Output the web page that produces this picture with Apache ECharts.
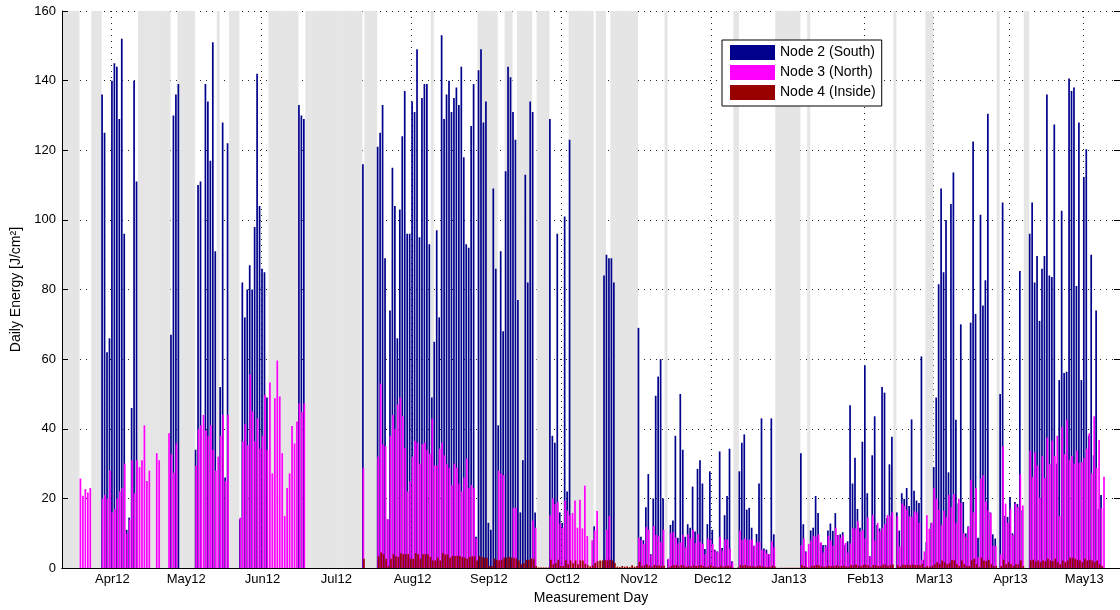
<!DOCTYPE html>
<html>
<head>
<meta charset="utf-8">
<script src="https://cdn.jsdelivr.net/npm/echarts@6/dist/echarts.min.js"></script>
<style>
  html, body { margin: 0; padding: 0; background: #fff; }
  #main { width: 1120px; height: 610px; }
</style>
</head>
<body>
<div id="main"></div>
<script>
// daily energy per node, one value per day starting 2012-03-12 (10 days per row)
const START = Date.UTC(2012, 2, 12)
const NDAYS = 430

const south = [
  0,0,0,0,0,0,0,0,0,0,
  0,0,0,0,0,0,136,125,62,66,
  140,145,144,129,152,96,11,14.5,46,140,
  111,0,0,0,0,0,0,0,0,0,
  0,0,0,0,67,130,136,139,0,0,
  0,0,0,0,34,110,111,0,139,134,
  117,151,91,0,52,128,26,122,0,0,
  0,0,14,82,72,80,87,80,98,142,
  104,86,85,49,0,0,0,0,0,0,
  0,0,0,0,0,0,133,130,129,0,
  0,0,0,0,0,0,0,0,0,0,
  0,0,0,0,0,0,0,0,0,0,
  0,0,116,0,0,0,0,0,121,125,
  133,89,14,74,115,104,66,103,124,137,
  96,96,134,131,149,95,135,139,139,93,
  49,65,97,72,153,129,136,140,131,135,
  138,133,144,118,93,92,127,139,9,143,
  149,128,134,13,11,109,86,41,91,68,
  114,144,141,131,123,77,16,31,113,82,
  134,131,16,0,0,0,0,0,129,38,
  36,96,16,13,101,22,123,0,0,0,
  0,0,0,0,0,0,12,0,0,0,
  84,90,89,89,82,0,0,0,0,0,
  0,0,0,0,69,9,8,17.5,27,4,
  20,49.5,55,60,20,0,2.5,12.4,13.7,38,
  8.7,50,34,9,12.6,11.6,23.4,10.5,28.5,31,
  24.3,5.5,12.6,27.8,11,5.3,4.8,33.5,5.8,15.2,
  20.7,34.3,2,0,0,27.8,36,38.4,16.8,17.3,
  11.6,6.4,9.8,24.3,43,5.6,5.3,4,43,9.7,
  0,0,0,0,0,0,0,0,0,0,
  33,12.6,4.8,0,10.8,11.6,20.7,15.8,7.2,6.6,
  6.6,10.8,12.8,10.7,15.8,9.5,9.7,10.3,6.7,7.7,
  46.8,24.3,31.7,17,11.6,36.3,58.2,21.5,3.4,32.4,
  43.6,12.4,11.4,52,50.4,14.4,29.8,37.7,0,16,
  10.8,21.5,19.9,23,17.8,42.7,22.2,19.4,18.7,60.8,
  2.4,7.4,0,13,29,49,81.5,109,85,100,
  27.5,104.6,113.6,42.6,18.6,70,19,10,12,70.5,
  122.5,73,8.7,101.5,75.4,82.7,130.5,16,9.7,8.5,
  0,50,105,15,14.7,20.4,10,19,18.4,85.3,
  16.6,0,0,96,105,82,89.6,71,86,89.6,
  136,84,83.6,127.4,30,54,102.6,56,56.4,140.6,
  137,138,81,128,54,112.3,120.3,38,90,32.4,
  74,17,21,0,0,0,0,0,0,0
]

const north = [
  0,0,0,0,0,0,0,25.7,20.8,22.7,
  21.7,23,0,0,0,0,20,21,20,28,
  16,17,20,22,23,30,10,14,31,21.5,
  31,29,31,41,25,28,0,0,33,31,
  0,0,0,38.7,32.7,27.4,35.8,0,0,0,
  0,0,0,0,29.5,40,41,44,39.5,38,
  41,34,28,32,38,44,25,44,0,0,
  0,0,14.5,36.4,41.3,35.3,55.6,45,36.4,43,
  34.3,37.9,49.7,34,53.3,27.2,48.8,59.6,49.3,33,
  15,23,27.2,40.8,35.8,42.1,47.3,44.8,47.3,0,
  0,0,0,0,0,0,0,0,0,0,
  0,0,0,0,0,0,0,0,0,0,
  0,0,28.8,0,0,0,0,0,32,53,
  35.6,35,14,38,44,40,47,49,43.6,34.5,
  22,25,32,36.6,36,30,35.6,36,34,32.8,
  42.9,29.5,29.5,34.3,36,32.4,29.8,28.8,23.9,30,
  28.8,24.3,22,26,31.4,23,23.9,23,8.5,0,
  0,0,0,0,0,0,0,28,27.2,26.7,
  0,0,0,17.3,17.3,0,0,0,0,0,
  0,13.7,11.6,0,0,0,0,0,15.2,20,
  18.4,19,12.8,11.6,19.4,16.5,15.2,15.8,19.4,11.6,
  19.6,11.4,23.7,9.2,0,8,10.8,16.4,0,0,
  0,11,15,0,0,0,0,0,0,0,
  0,0,0,0,8.7,8,6.9,11.8,11,3.8,
  12.1,9.5,9.3,7.4,11,0,2.7,10,10.3,8.8,
  7.1,7.4,9.5,6,9.7,8.5,11,7.2,9.7,7.6,
  6.9,4,8.5,8.2,6.9,5,4.5,9,5,8.2,
  8.2,5.6,1.7,0,0,10.7,8.1,8.5,8.1,8.2,
  8.2,6.4,7.4,7.6,5.3,5.1,4.3,4,7.7,6,
  0,0,0,0,0,0,0,0,0,0,
  6.6,8.5,4.5,6.9,7.9,9.3,9.1,9.7,7.4,4.5,
  6.2,9.3,7.9,6.4,11.6,9.5,8.7,9.5,7.2,4.5,
  7.1,11.6,11.4,13.5,10.5,11,8.5,14.5,3.4,15.2,
  7.9,13,10.5,11.6,12.6,15.2,15,16,0,14.9,
  6.2,18.6,17.8,16.8,14.9,14.7,16.3,16,13,2.4,
  4.8,15.2,11.3,13,23,19.9,16.8,12.4,16.5,14.7,
  21,17.5,21.2,13,19.9,18.7,10,9,11.8,25.4,
  16,23,3.2,25.7,26.7,19.1,16.6,15.8,6.4,6.4,
  0,4,35,18.5,13,17,9.5,18.5,17.5,27,
  18,0,0,33.7,26.2,33.2,29.5,20.2,32.1,25.9,
  37.5,29.8,36.6,32.2,38,14.9,40.5,32.7,42.6,31.1,
  32.2,30,33.7,30.2,30.4,31.6,34.3,38.7,27.2,43.6,
  28.8,36.8,17.3,26.2,0,0,0,0,0,0
]

const inside = [
  0,0,0,0,0,0,0,0,0,0,
  0,0,0,0,0,0,0,0,0,0,
  0,0,0,0,0,0,0,0,0,0,
  0,0,0,0,0,0,0,0,0,0,
  0,0,0,0,0,0,0,0,0,0,
  0,0,0,0,0,0,0,0,0,0,
  0,0,0,0,0,0,0,0,0,0,
  0,0,0,0,0,0,0,0,0,0,
  0,0,0,0,0,0,0,0,0,0,
  0,0,0,0,0,0,0,0,0,0,
  0,0,0,0,0,0,0,0,0,0,
  0,0,0,0,0,0,0,0,0,0,
  0,0,2.7,0,0,0,0,0,3.4,4.5,
  4,2.7,0.6,2.7,4,3.4,3.2,4.3,4,4,
  4,2.7,2.7,4.3,4,2.7,4,4,4,3.2,
  2.2,2.2,3,2.2,4.3,3.9,3.9,3,3.5,3.5,
  3.5,3.5,3.2,3,2.7,3.2,3.4,3.4,2.2,3.5,
  3.2,3,3,0.6,0.6,2.7,2.4,2.2,2.4,3,
  3,3.2,3,3,2.7,2.2,1.1,1.4,2.4,2.4,
  2.7,2.7,0.6,0.2,0.2,0.2,0.2,0.2,2.4,1.1,
  1.4,2.4,0.6,0.6,2.2,1.1,2.2,1.4,2.2,1.1,
  2.2,2.2,1.2,0.8,0.5,0.8,1.5,2,2.2,2.2,
  2.4,2.2,2.4,2.2,1.5,0.4,0.3,0.6,0.4,0.5,
  0.3,0.8,0.4,0.6,1.8,0.6,0.8,1,0.7,0.4,
  0.9,0.7,0.8,0.6,0.7,0,0.3,0.6,0.8,0.9,
  0.5,0.9,0.7,0.4,0.6,0.5,0.8,0.6,0.7,0.9,
  0.6,0.3,0.5,0.8,0.5,0.4,0.3,0.7,0.4,0.6,
  0.7,0.5,0.2,0,0.2,0.8,0.7,0.9,0.6,0.6,
  0.5,0.4,0.6,0.7,0.5,0.4,0.3,0.3,0.7,0.5,
  0.1,0.1,0.1,0.1,0.1,0.1,0.1,0.1,0.1,0.1,
  0.8,0.6,0.3,0.2,0.6,0.7,0.9,0.8,0.5,0.4,
  0.5,0.7,0.6,0.5,0.8,0.6,0.6,0.7,0.5,0.4,
  0.9,0.8,1,0.7,0.6,0.9,1,0.8,0.3,0.9,
  0.8,0.6,0.6,1,1,0.7,0.9,1,0,0.8,
  0.5,1,0.9,1,0.8,1.1,0.9,0.9,0.8,1.2,
  0.3,0.6,0.4,0.7,1.1,1.7,1.1,2.2,1.7,1.1,
  1.4,2.4,2.2,1.1,0.6,2.2,1.1,0.6,0.6,2.2,
  2.7,1.1,0.3,3,2.2,2,2.4,1.1,0.6,0.6,
  0,0.6,2.4,1.1,1.7,1.1,0.6,1.1,1.1,2.2,
  0.6,0,0,2.2,2.4,1.9,2.2,1.7,2.2,2,
  2.7,2.2,2,2.7,1.7,1.1,2.2,1.7,2.2,3,
  3,2.7,2.4,2.2,1.7,2.7,2.2,2.4,2.2,1.7,
  2.2,1.1,0.6,0,0,0,0,0,0,0
]

// day ranges (index from START, inclusive) shaded grey
const grayRanges = [
  [0, 6], [12, 15], [31, 43], [47, 53], [63, 63], [68, 71], [84, 95],
  [99, 121], [123, 127], [150, 150], [169, 176], [180, 182], [185, 190],
  [193, 197], [206, 215], [217, 220], [223, 233], [245, 245], [273, 274],
  [290, 299], [303, 303], [338, 338], [351, 353], [380, 380], [391, 392]
]

const monthNames = ['Jan', 'Feb', 'Mar', 'Apr', 'May', 'Jun', 'Jul', 'Aug', 'Sep', 'Oct', 'Nov', 'Dec']
const seriesNames = ['Node 2 (South)', 'Node 3 (North)', 'Node 4 (Inside)']

const days = []
for (let i = 0; i < NDAYS; i++) {
  days.push(new Date(START + i * 86400000).toISOString().slice(0, 10))
}
const shade = days.map(() => null)
grayRanges.forEach(([a, b]) => {
  for (let i = a; i <= b; i++) shade[i] = 160
})

const isMonthStart = (idx, v) => v.slice(8) === '01'
const monthLabel = v => monthNames[+v.slice(5, 7) - 1] + v.slice(2, 4)

const FONT = 'Liberation Sans, Arial, Helvetica, sans-serif'
const dotted = { type: [1, 5], color: '#222', width: 1 }

const myChart = echarts.init(document.getElementById('main'))

var option = {
  animation: false,
  textStyle: { fontFamily: FONT },
  grid: { left: 62, right: 0, top: 11, bottom: 40 },
  legend: {
    data: seriesNames,
    orient: 'vertical',
    left: 722,
    top: 40,
    icon: 'rect',
    itemWidth: 45,
    itemHeight: 15,
    itemGap: 5,
    padding: [5, 6, 6, 8],
    borderColor: '#000',
    borderWidth: 1,
    backgroundColor: '#fff',
    textStyle: { fontSize: 14, color: '#000', fontFamily: FONT },
  },
  xAxis: [
    {
      type: 'category',
      data: days,
      position: 'bottom',
      axisLine: { lineStyle: { color: '#000' } },
      axisTick: { inside: true, length: 6, alignWithLabel: true, interval: isMonthStart, lineStyle: { color: '#000' } },
      axisLabel: { interval: isMonthStart, formatter: monthLabel, color: '#000', fontSize: 13, margin: 5 },
      splitLine: { show: true, interval: isMonthStart, lineStyle: dotted },
      name: 'Measurement Day',
      nameLocation: 'middle',
      nameGap: 20,
      nameTextStyle: { fontSize: 14, color: '#000' },
    },
    {
      type: 'category',
      data: days,
      position: 'top',
      z: 5,
      axisLine: { lineStyle: { color: '#000' } },
      axisTick: { inside: true, length: 6, alignWithLabel: true, interval: isMonthStart, lineStyle: { color: '#000' } },
      axisLabel: { show: false },
      splitLine: { show: false },
    },
  ],
  yAxis: [
    {
      type: 'value',
      min: 0,
      max: 160,
      interval: 20,
      position: 'left',
      axisLine: { show: false },
      axisTick: { show: false },
      axisLabel: { color: '#000', fontSize: 13, margin: 6 },
      splitLine: { show: true, lineStyle: dotted },
      name: 'Daily Energy [J/cm²]',
      nameLocation: 'middle',
      nameGap: 37,
      nameTextStyle: { fontSize: 14, color: '#000' },
    },
    {
      type: 'value',
      min: 0,
      max: 160,
      interval: 20,
      position: 'right',
      z: 5,
      axisLine: { show: true, lineStyle: { color: '#000' } },
      axisTick: { show: true, inside: true, length: 6, lineStyle: { color: '#000' } },
      axisLabel: { show: false },
      splitLine: { show: false },
    },
    {
      type: 'value',
      min: 0,
      max: 160,
      interval: 20,
      position: 'left',
      z: 5,
      axisLine: { show: true, lineStyle: { color: '#000' } },
      axisTick: { show: true, inside: true, length: 6, lineStyle: { color: '#000' } },
      axisLabel: { show: false },
      splitLine: { show: false },
    },
  ],
  series: [
    {
      name: 'missing',
      type: 'bar',
      xAxisIndex: 1,
      yAxisIndex: 0,
      data: shade,
      barWidth: 3,
      z: 1,
      silent: true,
      itemStyle: { color: '#e5e5e5' },
    },
    {
      name: seriesNames[0],
      type: 'bar',
      data: south,
      barWidth: 1.7,
      barGap: '-70%',
      itemStyle: { color: '#00008c' },
    },
    {
      name: seriesNames[1],
      type: 'bar',
      data: north,
      barWidth: 1.7,
      barGap: '-70%',
      itemStyle: { color: '#ff00ff' },
    },
    {
      name: seriesNames[2],
      type: 'bar',
      data: inside,
      barWidth: 1.7,
      barGap: '-70%',
      itemStyle: { color: '#990000' },
    },
  ],
}

myChart.setOption(option)
</script>
</body>
</html>
